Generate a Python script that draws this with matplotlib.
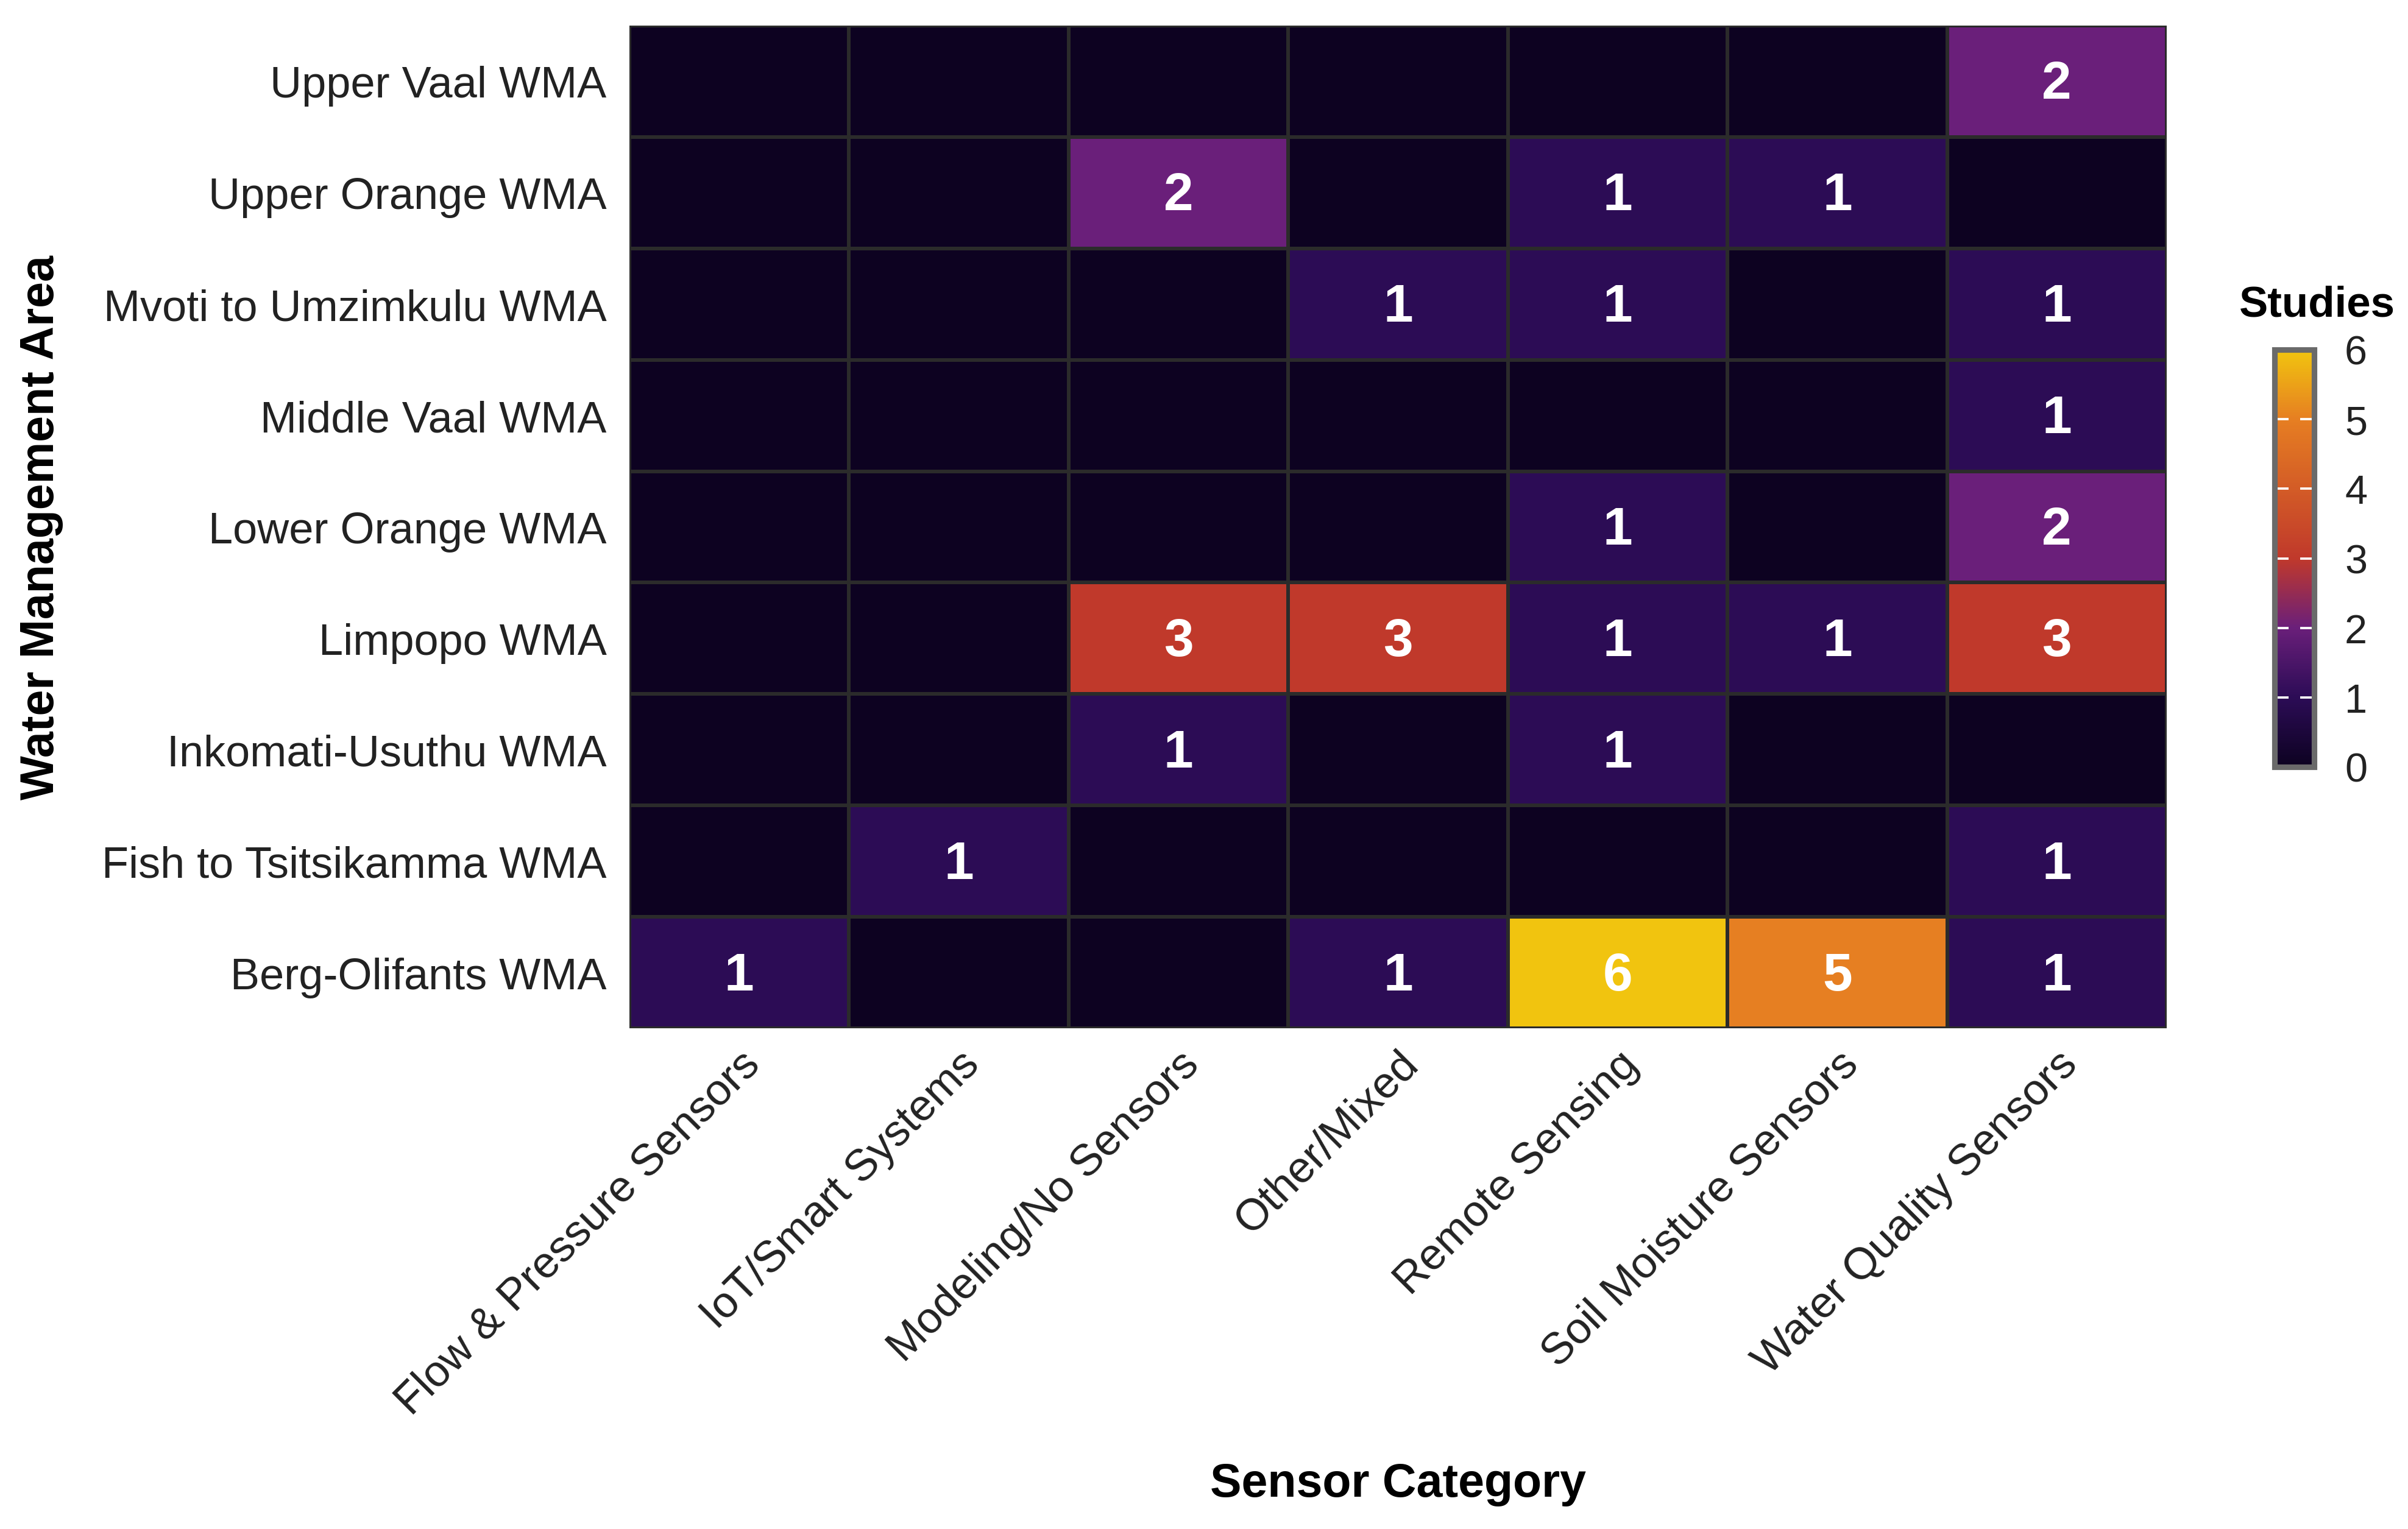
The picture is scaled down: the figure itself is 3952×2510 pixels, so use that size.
import numpy as np
import matplotlib
matplotlib.use("Agg")
import matplotlib.pyplot as plt
from matplotlib.colors import LinearSegmentedColormap, Normalize

plt.rcParams['font.family'] = ['Liberation Sans', 'DejaVu Sans']

regions = ["Upper Vaal WMA", "Upper Orange WMA", "Mvoti to Umzimkulu WMA",
           "Middle Vaal WMA", "Lower Orange WMA", "Limpopo WMA",
           "Inkomati-Usuthu WMA", "Fish to Tsitsikamma WMA", "Berg-Olifants WMA"]
categories = ["Flow & Pressure Sensors", "IoT/Smart Systems", "Modeling/No Sensors",
              "Other/Mixed", "Remote Sensing", "Soil Moisture Sensors",
              "Water Quality Sensors"]
upper_vaal = [0, 0, 0, 0, 0, 0, 2]
upper_orange = [0, 0, 2, 0, 1, 1, 0]
mvoti = [0, 0, 0, 1, 1, 0, 1]
middle_vaal = [0, 0, 0, 0, 0, 0, 1]
lower_orange = [0, 0, 0, 0, 1, 0, 2]
limpopo = [0, 0, 3, 3, 1, 1, 3]
inkomati = [0, 0, 1, 0, 1, 0, 0]
fish = [0, 1, 0, 0, 0, 0, 1]
berg = [1, 0, 0, 1, 6, 5, 1]
values = np.array([upper_vaal, upper_orange, mvoti, middle_vaal, lower_orange,
                   limpopo, inkomati, fish, berg])
colorbar_ticks = [0, 1, 2, 3, 4, 5, 6]

cmap = LinearSegmentedColormap.from_list(
    "studies",
    [(0.0, "#0D0221"), (1/6, "#2C0C56"), (2/6, "#6A1F7A"), (3/6, "#C0392B"),
     (5/6, "#E67E22"), (1.0, "#F1C40F")])
norm = Normalize(vmin=0, vmax=6)

W, H = 3952, 2511
dpi = 300
fig = plt.figure(figsize=(W / dpi, H / dpi), dpi=dpi)
ax = fig.add_axes([1033 / W, 1 - 1689 / H, (3556 - 1033) / W, (1689 - 43) / H])

nr, nc = values.shape
ax.pcolormesh(np.arange(nc + 1), np.arange(nr + 1), values[::-1], cmap=cmap, norm=norm,
              edgecolors="#2B2B2B", linewidth=1.4)
ax.set_xlim(0, nc)
ax.set_ylim(0, nr)
for i in range(nr):
    for j in range(nc):
        v = values[i, j]
        if v > 0:
            ax.text(j + 0.5, nr - 1 - i + 0.47, str(v), ha="center", va="center",
                    color="white", fontsize=21, fontweight="bold")

ax.set_xticks(np.arange(nc) + 0.5)
ax.set_xticklabels(categories, rotation=45, ha="right", va="top",
                   rotation_mode="anchor", fontsize=17.3, color="#222222")
ax.set_yticks(np.arange(nr) + 0.5)
ax.set_yticklabels(regions[::-1], fontsize=17.3, color="#222222")
ax.tick_params(length=0, pad=9)
ax.tick_params(axis="x", pad=6)
for s in ax.spines.values():
    s.set_visible(False)

fig.text((1033 + 3556) / 2 / W, 1 - 2437 / H, "Sensor Category", ha="center",
         va="center", fontsize=18.5, fontweight="bold")
fig.text(68 / W, 1 - 866 / H, "Water Management Area", ha="center", va="center",
         rotation=90, fontsize=18.5, fontweight="bold")

# colorbar
cax = fig.add_axes([3733 / W, 1 - 1260 / H, 65 / W, 685 / H])
sm = plt.cm.ScalarMappable(cmap=cmap, norm=norm)
cb = fig.colorbar(sm, cax=cax, ticks=colorbar_ticks)
cb.outline.set_edgecolor("#6A6A6A")
cb.outline.set_linewidth(2.2)
cax.tick_params(axis="y", direction="in", length=5.5, width=0.9, color="white",
                left=True, right=True, labelsize=16, labelcolor="#222222", pad=12)
cax.set_yticklabels([str(t) for t in colorbar_ticks])
fig.text(3675 / W, 1 - 502 / H, "Studies", ha="left", va="center",
         fontsize=17, fontweight="bold")

fig.savefig("out.png", dpi=dpi, facecolor="white")
